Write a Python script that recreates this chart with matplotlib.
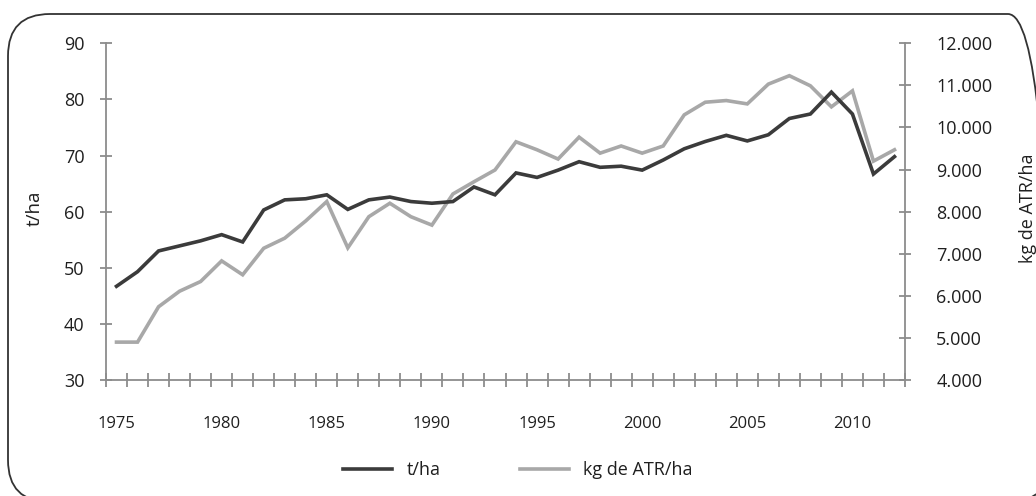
import numpy as np
import matplotlib
matplotlib.use('Agg')
import matplotlib.pyplot as plt
from matplotlib.patches import FancyBboxPatch

# data
years = list(range(1975, 2013))
t_ha = [46.7, 49.3, 53.0, 53.9, 54.8, 55.9, 54.6, 60.3, 62.1, 62.3,
        63.0, 60.4, 62.1, 62.6, 61.8, 61.5, 61.8, 64.4, 63.0, 66.9,
        66.1, 67.4, 68.9, 67.9, 68.1, 67.4, 69.2, 71.2, 72.5, 73.6,
        72.6, 73.7, 76.6, 77.4, 81.3, 77.4, 66.7, 69.8]
kg_atr_ha = [4900, 4900, 5740, 6110, 6340, 6830, 6500, 7130, 7370, 7780,
             8240, 7140, 7880, 8200, 7880, 7680, 8420, 8710, 8990, 9660,
             9470, 9250, 9770, 9390, 9560, 9390, 9560, 10300, 10600, 10640,
             10560, 11030, 11230, 10990, 10490, 10870, 9200, 9470]
year_labels = [1975, 1980, 1985, 1990, 1995, 2000, 2005, 2010]
left_ticks = [30, 40, 50, 60, 70, 80, 90]
right_ticks = [4000, 5000, 6000, 7000, 8000, 9000, 10000, 11000, 12000]

plt.rcParams['font.family'] = ['Open Sans', 'DejaVu Sans']
dark = '#3b3b3b'
light = '#a8a8a8'
axis_gray = '#8c8c8c'
text_col = '#1f1f1f'

fig = plt.figure(figsize=(10.36, 4.96), dpi=100)
ax = fig.add_axes([106 / 1036, 1 - 380 / 496, (905 - 106) / 1036, (380 - 43.3) / 496])
ax2 = ax.twinx()

l1, = ax.plot(years, t_ha, color=dark, lw=2.6, solid_joinstyle='miter', zorder=3)
l2, = ax2.plot(years, kg_atr_ha, color=light, lw=2.6, solid_joinstyle='miter', zorder=2)
ax.set_zorder(ax2.get_zorder() + 1)
ax.patch.set_visible(False)

ax.set_xlim(1974.5, 2012.5)
ax.set_ylim(30, 90)
ax2.set_ylim(4000, 12000)

for a in (ax, ax2):
    a.spines['top'].set_visible(False)
    for s in ('left', 'right', 'bottom'):
        a.spines[s].set_color(axis_gray)
        a.spines[s].set_linewidth(1.3)
ax.spines['right'].set_visible(False)
ax2.spines['left'].set_visible(False)
ax2.spines['bottom'].set_visible(False)

# x axis: tick marks on year boundaries, labels on the years
ax.set_xticks(year_labels)
ax.set_xticklabels([str(y) for y in year_labels])
ax.set_xticks(np.arange(1974.5, 2013), minor=True)
ax.tick_params(axis='x', which='major', length=0, pad=26, labelsize=12, labelcolor=text_col)
ax.tick_params(axis='x', which='minor', direction='inout', length=10, width=1.3, color=axis_gray)

ax.set_yticks(left_ticks)
ax.set_yticklabels([str(v) for v in left_ticks])
ax.tick_params(axis='y', direction='inout', length=9, width=1.3, color=axis_gray,
               pad=11, labelsize=13, labelcolor=text_col)

ax2.set_yticks(right_ticks)
ax2.set_yticklabels(['{:,}'.format(v).replace(',', '.') for v in right_ticks])
ax2.tick_params(axis='y', direction='inout', length=9, width=1.3, color=axis_gray,
                pad=18, labelsize=13, labelcolor=text_col)

fig.text(35 / 1036, 1 - 208 / 496, 't/ha', rotation=90, ha='center', va='center',
         fontsize=13.5, color=text_col)
fig.text(1028 / 1036, 1 - 208 / 496, 'kg de ATR/ha', rotation=90, ha='center', va='center',
         fontsize=13, color=text_col)

fig.legend([l1, l2], ['t/ha', 'kg de ATR/ha'], loc='center', bbox_to_anchor=(0.5, 1 - 470 / 496),
           ncol=2, frameon=False, fontsize=13, handlelength=2.7, handletextpad=0.8,
           columnspacing=4.4, labelcolor=text_col)

# rounded frame around the figure, running off the right and bottom edges
frame = FancyBboxPatch((0.08, -0.06), 10.42, 4.88, boxstyle='round,pad=0,rounding_size=0.42',
                       transform=fig.dpi_scale_trans, fill=False, edgecolor='#333333',
                       linewidth=1.3, clip_on=False)
fig.patches.append(frame)

fig.savefig('out.png', dpi=100)
